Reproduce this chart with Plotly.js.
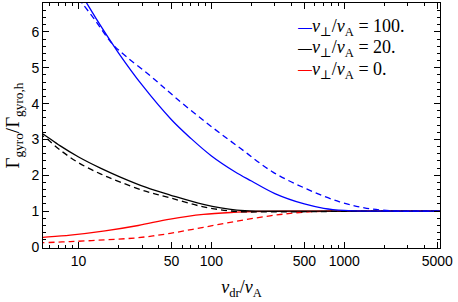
<!DOCTYPE html>
<html><head><meta charset="utf-8">
<script src="https://cdn.plot.ly/plotly-3.0.1.min.js"></script>
<style>html,body{margin:0;padding:0;background:#fff}</style>
</head><body><div id="chart" style="width:458px;height:302px"></div>
<script>
// v_dr / v_A values and Gamma_gyro / Gamma_gyro,h ratios
const vBlueSolid = [10, 12, 15, 20, 30, 50, 70, 100, 150, 200, 300, 500, 700, 1000, 1500, 2000, 3000, 5000, 6000];
const gBlueSolid = [7.19, 6.69, 6.11, 5.41, 4.52, 3.55, 3.03, 2.54, 2.10, 1.84, 1.49, 1.20, 1.08, 1.02, 1.0, 1.0, 1.0, 1.0, 1.0];
const vBlueDash = [10, 10.9, 13, 17.8, 23, 35, 52, 92, 164, 290, 520, 920, 1470, 2500, 3500, 5000, 6000];
const gBlueDash = [6.94, 6.75, 6.38, 5.68, 5.30, 4.76, 4.21, 3.46, 2.76, 2.09, 1.62, 1.26, 1.08, 1.0, 1.0, 1.0, 1.0];
const vBlackSolid = [5, 5.47, 7.28, 10, 14.6, 20.6, 32.3, 48.9, 87, 155, 232, 500, 1000, 5000, 6000];
const gBlackSolid = [3.23, 3.14, 2.82, 2.51, 2.20, 1.95, 1.66, 1.45, 1.19, 1.03, 1.0, 1.0, 1.0, 1.0, 1.0];
const vBlackDash = [5, 5.47, 7.28, 10, 14.6, 20.6, 32.3, 48.9, 87, 155, 276, 552, 1300, 5000, 6000];
const gBlackDash = [3.15, 3.08, 2.70, 2.35, 2.04, 1.81, 1.55, 1.37, 1.12, 0.99, 0.98, 0.985, 1.0, 1.0, 1.0];
const vRedSolid = [5, 5.43, 8.66, 15.8, 28.1, 48.9, 87, 155, 207, 391, 1000, 5000, 6000];
const gRedSolid = [0.26, 0.27, 0.33, 0.45, 0.60, 0.78, 0.91, 0.97, 0.99, 1.0, 1.0, 1.0, 1.0];
const vRedDash = [5, 5.43, 8.66, 15.8, 28.1, 48.9, 87, 155, 276, 490, 923, 2000, 5000, 6000];
const gRedDash = [0.115, 0.12, 0.15, 0.20, 0.26, 0.38, 0.55, 0.72, 0.87, 0.97, 1.0, 1.0, 1.0, 1.0];

const xTickVals = [10, 50, 100, 500, 1000, 5000];
const xTickText = ['10', '50', '100', '500', '1000', '5000'];
const xMinorVals = [6, 7, 8, 9, 20, 30, 40, 60, 70, 80, 90, 200, 300, 400, 600, 700, 800, 900, 2000, 3000, 4000];
const legendLabels = ['100.', '20.', '0.'];
const legendColors = ['#0000ff', '#000000', '#ff0000'];

function tr(x, y, color, dash) {
  return {x: x, y: y, type: 'scatter', mode: 'lines', showlegend: false, hoverinfo: 'skip',
    line: {color: color, width: 1.3, dash: dash, shape: 'spline', smoothing: 1}};
}
const data = [
  tr(vRedSolid, gRedSolid, '#ff0000', 'solid'),
  tr(vRedDash, gRedDash, '#ff0000', '6px,4px'),
  tr(vBlackSolid, gBlackSolid, '#000000', 'solid'),
  tr(vBlackDash, gBlackDash, '#000000', '6px,4px'),
  tr(vBlueSolid, gBlueSolid, '#0000ff', 'solid'),
  tr(vBlueDash, gBlueDash, '#0000ff', '6px,4px')
];

const serif = 'Liberation Serif, DejaVu Serif, serif';
const sans = 'Liberation Sans, DejaVu Sans, sans-serif';
const legendY = [0.9, 0.813, 0.726];
const annotations = [];
legendLabels.forEach((lab, i) => {
  annotations.push({
    xref: 'paper', yref: 'paper', x: 0.637, y: legendY[i] + 0.004, xanchor: 'left', yanchor: 'middle',
    showarrow: false, font: {family: sans, size: 14, color: legendColors[i]}, text: '—'
  });
  annotations.push({
    xref: 'paper', yref: 'paper', x: 0.672, y: legendY[i], xanchor: 'left', yanchor: 'middle',
    showarrow: false, font: {family: serif, size: 18, color: '#000'},
    text: '<i>v</i><sub>⊥</sub>/<i>v</i><sub>A</sub> = ' + lab
  });
});

const layout = {
  width: 458, height: 302,
  margin: {l: 43, r: 18, t: 3, b: 54},
  paper_bgcolor: '#fff', plot_bgcolor: '#fff',
  xaxis: {
    type: 'log', range: [0.732, 3.72],
    tickvals: xTickVals, ticktext: xTickText,
    ticks: 'inside', ticklen: 6, tickcolor: '#000', tickwidth: 1,
    minor: {tickvals: xMinorVals, ticks: 'inside', ticklen: 3, tickcolor: '#000', showgrid: false},
    showline: true, linecolor: '#000', linewidth: 1, mirror: 'ticks',
    showgrid: false, zeroline: false,
    tickfont: {family: sans, size: 14, color: '#000'},
    title: {text: '<i>v</i><sub>dr</sub>/<i>v</i><sub>A</sub>', font: {family: serif, size: 18, color: '#000'}, standoff: 12}
  },
  yaxis: {
    range: [-0.028, 6.806], tick0: 0, dtick: 1,
    ticks: 'inside', ticklen: 6, tickcolor: '#000', tickwidth: 1,
    minor: {dtick: 0.2, ticks: 'inside', ticklen: 3, tickcolor: '#000', showgrid: false},
    showline: true, linecolor: '#000', linewidth: 1, mirror: 'ticks',
    showgrid: false, zeroline: false,
    tickfont: {family: sans, size: 14, color: '#000'},
    title: {text: 'Γ<sub>gyro</sub>/Γ<sub>gyro,h</sub>', font: {family: serif, size: 19, color: '#000'}, standoff: 6}
  },
  annotations: annotations
};
Plotly.newPlot('chart', data, layout, {staticPlot: true, displayModeBar: false});
</script></body></html>
